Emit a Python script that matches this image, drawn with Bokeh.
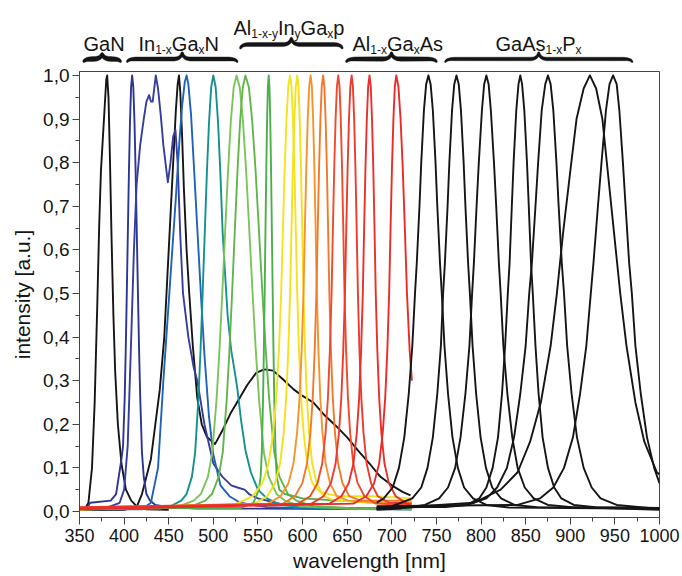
import numpy as np
from bokeh.plotting import figure
from bokeh.layouts import column
from bokeh.models import Range1d, FixedTicker, CustomJSTickFormatter
from bokeh.core.properties import value
from bokeh.embed import file_html
from bokeh.resources import INLINE

FONT = "Liberation Sans"

# ---------------- data ----------------
x_ticks = [350, 400, 450, 500, 550, 600, 650, 700, 750, 800, 850, 900, 950, 1000]
x_minor = [375, 425, 475, 525, 575, 625, 675, 725, 775, 825, 875, 925, 975]
y_ticks = [0.0, 0.1, 0.2, 0.3, 0.4, 0.5, 0.6, 0.7, 0.8, 0.9, 1.0]
y_minor = [0.05, 0.15, 0.25, 0.35, 0.45, 0.55, 0.65, 0.75, 0.85, 0.95]

# GaN (black)
gan_wl = [350, 356, 360, 364, 367, 370, 372, 374, 376, 378, 380, 381, 382.5, 384, 386, 388, 390, 393, 397, 402, 408, 415, 425, 450]
gan_i = [0.004, 0.006, 0.02, 0.1, 0.25, 0.48, 0.65, 0.78, 0.85, 0.92, 0.99, 1.0, 0.95, 0.82, 0.62, 0.45, 0.32, 0.2, 0.11, 0.05, 0.025, 0.01, 0.005, 0.004]

# InGaN, 409 nm (dark blue)
dblue_wl = [350, 358, 362, 385, 391, 394, 397, 398.8, 400.6, 401.8, 403, 404.2, 405.4, 406.6, 407.8, 409, 410.3, 411.6, 412.9, 414.2, 415.5, 416.8, 418.1, 420, 422, 425, 429, 435, 450, 480, 722]
dblue_i = [0.006, 0.008, 0.02, 0.025, 0.04, 0.08, 0.12, 0.15, 0.257, 0.368, 0.5, 0.641, 0.779, 0.895, 0.973, 1.0, 0.973, 0.895, 0.779, 0.641, 0.5, 0.368, 0.257, 0.135, 0.08, 0.04, 0.025, 0.015, 0.01, 0.007, 0.005]

# InGaN, broad double peak (blue)
wblue_wl = [350, 380, 395, 400, 404, 408, 411, 414, 418, 422, 425, 428, 430, 432, 435.5, 438, 441, 444, 449, 452, 455, 457.5, 460, 463, 466, 472, 478, 482, 490, 500, 510, 520, 527, 535, 540, 550, 560, 580, 610, 650, 722]
wblue_i = [0.006, 0.008, 0.02, 0.05, 0.15, 0.4, 0.6, 0.75, 0.84, 0.9, 0.94, 0.955, 0.94, 0.94, 1.0, 0.97, 0.91, 0.84, 0.755, 0.8, 0.86, 0.875, 0.8, 0.63, 0.5, 0.4, 0.33, 0.3, 0.2, 0.11, 0.08, 0.06, 0.055, 0.05, 0.04, 0.03, 0.025, 0.015, 0.01, 0.008, 0.006]

# white LED (black): blue peak + broad phosphor band
white_wl = [350, 400, 414, 420, 430, 440, 445, 450, 455, 458, 460, 461.5, 463, 465, 467, 470, 473, 477, 482, 487, 493, 502, 510, 519, 528, 538, 548, 557, 567, 577, 590, 600, 612, 625, 638, 650, 662, 675, 687, 700, 712, 721]
white_i = [0.003, 0.004, 0.01, 0.04, 0.12, 0.28, 0.4, 0.6, 0.8, 0.92, 0.98, 1.0, 0.96, 0.86, 0.74, 0.6, 0.5, 0.38, 0.26, 0.2, 0.17, 0.155, 0.185, 0.224, 0.255, 0.29, 0.318, 0.326, 0.323, 0.305, 0.28, 0.265, 0.25, 0.22, 0.195, 0.17, 0.14, 0.11, 0.08, 0.06, 0.045, 0.037]

# InGaN, 470 nm (blue)
blue_wl = [350, 420, 430, 438, 444, 449, 454, 458, 462, 465, 468, 470, 472, 475, 478, 482, 486, 490, 495, 500, 508, 518, 530, 560, 620, 722]
blue_i = [0.005, 0.005, 0.02, 0.1, 0.3, 0.45, 0.6, 0.72, 0.85, 0.93, 0.985, 1.0, 0.98, 0.91, 0.8, 0.65, 0.5, 0.36, 0.22, 0.13, 0.06, 0.035, 0.02, 0.01, 0.006, 0.005]

# InGaN, 500 nm (teal)
teal_wl = [350, 440, 452, 464, 470, 476, 479.6, 483.2, 485.6, 488, 490.4, 492.8, 495.2, 497.6, 500, 502.6, 505.2, 507.8, 510.4, 513, 516, 520, 524, 527, 531, 536, 542, 550, 560, 575, 620, 722]
teal_i = [0.005, 0.006, 0.012, 0.025, 0.04, 0.08, 0.135, 0.257, 0.368, 0.5, 0.641, 0.779, 0.895, 0.973, 1.0, 0.973, 0.895, 0.779, 0.641, 0.55, 0.45, 0.37, 0.32, 0.28, 0.21, 0.14, 0.09, 0.05, 0.03, 0.015, 0.008, 0.005]

# InGaN, 526 nm (light green)
lgreen_wl = [350, 462, 478, 486, 494, 498.8, 503.6, 506.8, 510, 513.2, 516.4, 519.6, 522.8, 526, 529.6, 533.2, 536.8, 540.4, 544, 547.6, 551.2, 556.6, 562, 571, 580, 598, 650, 722]
lgreen_i = [0.007, 0.012, 0.025, 0.04, 0.08, 0.135, 0.257, 0.368, 0.5, 0.641, 0.779, 0.895, 0.973, 1.0, 0.973, 0.895, 0.779, 0.641, 0.5, 0.368, 0.257, 0.135, 0.08, 0.04, 0.025, 0.012, 0.007, 0.005]

# InGaN, 536 nm (green)
green_wl = [350, 476, 491, 498.5, 506, 510.5, 515, 518, 521, 524, 527, 530, 533, 536, 539.8, 543.6, 547.4, 551.2, 555, 558.8, 562.6, 568.3, 574, 583.5, 593, 612, 660, 722]
green_i = [0.006, 0.012, 0.025, 0.04, 0.08, 0.135, 0.257, 0.368, 0.5, 0.641, 0.779, 0.895, 0.973, 1.0, 0.973, 0.895, 0.779, 0.641, 0.5, 0.368, 0.257, 0.135, 0.08, 0.04, 0.025, 0.012, 0.007, 0.006]

# 562 nm (narrow green)
ngreen_wl = [350, 530, 545, 551, 553, 554.3, 555.7, 556.6, 557.5, 558.4, 559.3, 560.2, 561.1, 562, 562.9, 563.8, 564.7, 565.6, 566.5, 567.4, 568.3, 569.7, 571, 574, 580, 600, 640, 680, 722]
ngreen_i = [0.008, 0.008, 0.02, 0.05, 0.08, 0.135, 0.257, 0.368, 0.5, 0.641, 0.779, 0.895, 0.973, 1.0, 0.973, 0.895, 0.779, 0.641, 0.5, 0.368, 0.257, 0.135, 0.08, 0.05, 0.04, 0.03, 0.025, 0.02, 0.02]

# AlInGaP yellow 586 / 594
yel1_wl = [350, 526, 544, 555, 562, 567, 570.5, 573.5, 576, 578, 580, 582, 584, 586, 587.6, 589.2, 590.8, 592.4, 594, 596, 598.4, 601.2, 605.2, 610.8, 619.6, 640, 680, 722]
yel1_i = [0.006, 0.018, 0.035, 0.065, 0.11, 0.18, 0.26, 0.37, 0.5, 0.65, 0.79, 0.9, 0.975, 1.0, 0.975, 0.9, 0.79, 0.65, 0.5, 0.37, 0.26, 0.18, 0.11, 0.065, 0.045, 0.035, 0.035, 0.03]

yel2_wl = [350, 546, 560.4, 569.2, 574.8, 578.8, 581.6, 584, 586, 587.6, 589.2, 590.8, 592.4, 594, 595.4, 596.8, 598.2, 599.6, 601, 602.75, 604.85, 607.3, 610.8, 615.7, 623.4, 636, 680, 722]
yel2_i = [0.004, 0.018, 0.035, 0.065, 0.11, 0.18, 0.26, 0.37, 0.5, 0.65, 0.79, 0.9, 0.975, 1.0, 0.975, 0.9, 0.79, 0.65, 0.5, 0.37, 0.26, 0.18, 0.11, 0.065, 0.035, 0.025, 0.02, 0.02]

# AlInGaP orange 609 / 623
or1_wl = [350, 561, 575.4, 584.2, 589.8, 593.8, 596.6, 599, 601, 602.6, 604.2, 605.8, 607.4, 609, 610.4, 611.8, 613.2, 614.6, 616, 617.75, 619.85, 622.3, 625.8, 630.7, 638.4, 651, 690, 722]
or1_i = [0.007, 0.018, 0.035, 0.065, 0.11, 0.18, 0.26, 0.37, 0.5, 0.65, 0.79, 0.9, 0.975, 1.0, 0.975, 0.9, 0.79, 0.65, 0.5, 0.37, 0.26, 0.18, 0.11, 0.065, 0.035, 0.025, 0.02, 0.02]

or2_wl = [350, 578, 591.5, 599.75, 605, 608.75, 611.4, 613.6, 615.5, 617, 618.5, 620, 621.5, 623, 624.4, 625.8, 627.2, 628.6, 630, 631.75, 633.85, 636.3, 639.8, 644.7, 652.4, 665, 700, 722]
or2_i = [0.009, 0.018, 0.035, 0.065, 0.11, 0.18, 0.26, 0.37, 0.5, 0.65, 0.79, 0.9, 0.975, 1.0, 0.975, 0.9, 0.79, 0.65, 0.5, 0.37, 0.26, 0.18, 0.11, 0.065, 0.035, 0.025, 0.025, 0.025]

# AlInGaP / AlGaAs reds 640 / 655 / 675 / 705
red1_wl = [350, 595, 608.5, 616.75, 622, 625.75, 628.4, 630.6, 632.5, 634, 635.5, 637, 638.5, 640, 641.4, 642.8, 644.2, 645.6, 647, 648.75, 650.85, 653.3, 656.8, 661.7, 669.4, 682, 722]
red1_i = [0.006, 0.018, 0.035, 0.065, 0.11, 0.18, 0.26, 0.37, 0.5, 0.65, 0.79, 0.9, 0.975, 1.0, 0.975, 0.9, 0.79, 0.65, 0.5, 0.37, 0.26, 0.18, 0.11, 0.065, 0.035, 0.018, 0.015]

red2_wl = [350, 610, 623.5, 631.75, 637, 640.75, 643.4, 645.6, 647.5, 649, 650.5, 652, 653.5, 655, 656.4, 657.8, 659.2, 660.6, 662, 663.75, 665.85, 668.3, 671.8, 676.7, 684.4, 697, 722]
red2_i = [0.01, 0.018, 0.035, 0.065, 0.11, 0.18, 0.26, 0.37, 0.5, 0.65, 0.79, 0.9, 0.975, 1.0, 0.975, 0.9, 0.79, 0.65, 0.5, 0.37, 0.26, 0.18, 0.11, 0.065, 0.035, 0.02, 0.018]

red3_wl = [350, 630, 643.5, 651.75, 657, 660.75, 663.4, 665.6, 667.5, 669, 670.5, 672, 673.5, 675, 676.4, 677.8, 679.2, 680.6, 682, 683.75, 685.85, 688.3, 691.8, 696.7, 704.4, 717, 722]
red3_i = [0.008, 0.018, 0.035, 0.065, 0.11, 0.18, 0.26, 0.37, 0.5, 0.65, 0.79, 0.9, 0.975, 1.0, 0.975, 0.9, 0.79, 0.65, 0.5, 0.37, 0.26, 0.18, 0.11, 0.065, 0.035, 0.018, 0.017]

red4_wl = [350, 657, 671.4, 680.2, 685.8, 689.8, 692.6, 695, 697, 698.6, 700.2, 701.8, 703.4, 705, 707.4, 709.8, 712.2, 714.6, 717, 720, 722.5]
red4_i = [0.005, 0.018, 0.035, 0.065, 0.11, 0.18, 0.26, 0.37, 0.5, 0.65, 0.79, 0.9, 0.975, 1.0, 0.975, 0.9, 0.79, 0.65, 0.5, 0.37, 0.3]

# AlGaAs / GaAsP near infrared (black)
ir1_wl = [683, 691, 701, 708, 714, 719, 723, 726, 728, 731, 733, 736, 738.5, 741, 743.5, 746, 749, 751, 754, 756, 759, 763, 768, 774, 781, 791, 806, 831, 1000]
ir1_i = [0.02, 0.03, 0.055, 0.1, 0.17, 0.27, 0.38, 0.5, 0.57, 0.7, 0.8, 0.92, 0.98, 1.0, 0.98, 0.92, 0.8, 0.7, 0.57, 0.5, 0.38, 0.27, 0.17, 0.1, 0.055, 0.03, 0.015, 0.009, 0.006]

ir2_wl = [683, 700, 723, 733, 740, 746, 751, 755, 757.5, 759.5, 762.5, 764.5, 767.5, 770, 772.5, 775, 777.5, 780.5, 782.5, 785.5, 787.5, 790.5, 794.5, 799.5, 805.5, 812.5, 822.5, 837.5, 862.5, 1000]
ir2_i = [0.008, 0.012, 0.03, 0.055, 0.1, 0.17, 0.27, 0.38, 0.5, 0.57, 0.7, 0.8, 0.92, 0.98, 1.0, 0.98, 0.92, 0.8, 0.7, 0.57, 0.5, 0.38, 0.27, 0.17, 0.1, 0.055, 0.03, 0.015, 0.01, 0.008]

ir3_wl = [683, 710, 737, 753, 763, 771, 777, 782.5, 787, 790, 792, 795, 797.5, 801, 803.5, 806, 808.5, 811, 814.5, 817, 820, 822, 825, 829.5, 835, 841, 849, 859, 875, 902, 1000]
ir3_i = [0.004, 0.007, 0.015, 0.03, 0.055, 0.1, 0.17, 0.27, 0.38, 0.5, 0.57, 0.7, 0.8, 0.92, 0.98, 1.0, 0.98, 0.92, 0.8, 0.7, 0.57, 0.5, 0.38, 0.27, 0.17, 0.1, 0.055, 0.03, 0.015, 0.01, 0.004]

ir4_wl = [683, 760, 784, 798, 806, 813, 819, 823.5, 827, 830, 832, 834.5, 836.5, 839.5, 842, 844, 846, 848.5, 851.5, 853.5, 856, 858, 861, 864.5, 869, 875, 882, 890, 904, 928, 1000]
ir4_i = [0.01, 0.01, 0.015, 0.03, 0.055, 0.1, 0.17, 0.27, 0.38, 0.5, 0.57, 0.7, 0.8, 0.92, 0.98, 1.0, 0.98, 0.92, 0.8, 0.7, 0.57, 0.5, 0.38, 0.27, 0.17, 0.1, 0.055, 0.03, 0.015, 0.01, 0.008]

ir5_wl = [683, 785, 806, 818, 829, 837, 844, 850, 854, 857, 861, 864, 868, 872, 875, 878, 881, 884.5, 887, 890.5, 893, 896.5, 901.5, 907.5, 915, 924, 934, 952, 1000]
ir5_i = [0.006, 0.015, 0.03, 0.055, 0.1, 0.17, 0.27, 0.38, 0.5, 0.57, 0.7, 0.8, 0.92, 0.98, 1.0, 0.98, 0.92, 0.8, 0.7, 0.57, 0.5, 0.38, 0.27, 0.17, 0.1, 0.055, 0.03, 0.015, 0.006]

ir6_wl = [683, 792, 822, 841, 855, 867, 878, 885, 892, 900, 907, 915, 922, 929, 936, 942, 949, 956, 963, 973, 983, 997, 1000]
ir6_i = [0.006, 0.02, 0.05, 0.09, 0.16, 0.25, 0.38, 0.5, 0.64, 0.78, 0.9, 0.97, 1.0, 0.97, 0.9, 0.78, 0.64, 0.5, 0.38, 0.25, 0.16, 0.09, 0.085]

ir7_wl = [683, 841, 866, 881, 893, 903, 911, 918, 923, 926, 931, 935, 940, 944, 948, 952, 955, 959, 962, 966, 969, 973, 979, 986, 994, 1000]
ir7_i = [0.012, 0.015, 0.03, 0.055, 0.1, 0.17, 0.27, 0.38, 0.5, 0.57, 0.7, 0.8, 0.92, 0.98, 1.0, 0.98, 0.92, 0.8, 0.7, 0.57, 0.5, 0.38, 0.27, 0.17, 0.1, 0.065]

# material groups: name segments (text, is_subscript), brace start / end in nm
group_names = [
    [("GaN", False)],
    [("In", False), ("1-x", True), ("Ga", False), ("x", True), ("N", False)],
    [("Al", False), ("1-x-y", True), ("In", False), ("y", True), ("Ga", False), ("x", True), ("p", False)],
    [("Al", False), ("1-x", True), ("Ga", False), ("x", True), ("As", False)],
    [("GaAs", False), ("1-x", True), ("P", False), (" x", True)],
]
group_start = [354.8, 403.5, 530.4, 649.2, 760.0]
group_end = [396.0, 526.7, 644.4, 750.0, 969.4]

# ---------------- layout constants ----------------
W = 682
LEFT, RIGHT = 79, 23
TOP_H = 63
MAIN_TOP = 8
MAIN_H = 576 - TOP_H
XMIN, XMAX = 350, 1000
PX_PER_NM = (W - LEFT - RIGHT) / (XMAX - XMIN)
INK = "#151515"

colored = [
    (gan_wl, gan_i, INK),
    (white_wl, white_i, INK),
    (dblue_wl, dblue_i, "#2d3592"),
    (wblue_wl, wblue_i, "#363d9d"),
    (blue_wl, blue_i, "#1f63b6"),
    (teal_wl, teal_i, "#14918e"),
    (lgreen_wl, lgreen_i, "#7cc35b"),
    (green_wl, green_i, "#62b54b"),
    (ngreen_wl, ngreen_i, "#4cae4c"),
    (yel1_wl, yel1_i, "#f2e31d"),
    (yel2_wl, yel2_i, "#f6e01a"),
    (or1_wl, or1_i, "#f6932a"),
    (or2_wl, or2_i, "#f17a28"),
    (red1_wl, red1_i, "#ef4a2c"),
    (red2_wl, red2_i, "#ec3b2d"),
    (red3_wl, red3_i, "#e9302b"),
    (red4_wl, red4_i, "#ec2a2a"),
]
infrared = [
    (ir1_wl, ir1_i), (ir2_wl, ir2_i), (ir3_wl, ir3_i), (ir4_wl, ir4_i),
    (ir5_wl, ir5_i), (ir6_wl, ir6_i), (ir7_wl, ir7_i),
]

# ---------------- main plot ----------------
main = figure(width=W, height=MAIN_H, x_range=Range1d(XMIN, XMAX),
              y_range=Range1d(-0.0138, 1.009), output_backend="svg",
              toolbar_location=None, min_border_left=LEFT, min_border_right=RIGHT,
              min_border_top=MAIN_TOP, min_border_bottom=59)
main.xgrid.visible = False
main.ygrid.visible = False
main.outline_line_color = "#444444"
main.outline_line_width = 1
main.background_fill_color = "white"
main.border_fill_color = "white"

for wl, it, col in colored:
    main.line(wl, it, line_color=col, line_width=1.9, line_join="round")
for wl, it in infrared:
    main.line(wl, it, line_color=INK, line_width=1.9, line_join="round")

main.xaxis.ticker = FixedTicker(ticks=x_ticks, minor_ticks=x_minor)
main.yaxis.ticker = FixedTicker(ticks=y_ticks, minor_ticks=y_minor)
main.yaxis.formatter = CustomJSTickFormatter(code="return tick.toFixed(1).replace('.', ',');")
main.xaxis.axis_label = "wavelength [nm]"
main.yaxis.axis_label = "intensity [a.u.]"
for ax in (main.xaxis[0], main.yaxis[0]):
    ax.axis_line_color = "#444444"
    ax.major_tick_line_color = "#444444"
    ax.minor_tick_line_color = "#444444"
    ax.major_tick_out = 7
    ax.major_tick_in = 0
    ax.minor_tick_out = 4
    ax.minor_tick_in = 0
    ax.major_label_text_font = FONT
    ax.major_label_text_color = INK
    ax.axis_label_text_font = FONT
    ax.axis_label_text_font_size = "21px"
    ax.axis_label_text_font_style = "normal"
    ax.axis_label_text_color = INK
main.xaxis.major_label_text_font_size = "18px"
main.yaxis.major_label_text_font_size = "19px"
main.xaxis.major_label_standoff = 4
main.yaxis.major_label_standoff = 3
main.xaxis.axis_label_standoff = 4
main.yaxis.axis_label_standoff = 6

# ---------------- top strip with braces and labels ----------------
top = figure(width=W, height=TOP_H, x_range=main.x_range, y_range=Range1d(TOP_H, 0),
             output_backend="svg", toolbar_location=None, min_border_left=LEFT,
             min_border_right=RIGHT, min_border_top=0, min_border_bottom=0,
             x_axis_location=None, y_axis_location=None, outline_line_color=None)
top.xgrid.visible = False
top.ygrid.visible = False
top.border_fill_color = "white"


def px2nm(px):
    return XMIN + (px - LEFT) / PX_PER_NM


def nm2px(nm):
    return LEFT + (nm - XMIN) * PX_PER_NM


def quad(p0, p1, p2, n=16):
    t = np.linspace(0, 1, n)[:, None]
    return (1 - t) ** 2 * np.array(p0) + 2 * (1 - t) * t * np.array(p1) + t ** 2 * np.array(p2)


def brace(x0, x1, y_bar, h_end, h_tip, r):
    xc = (x0 + x1) / 2
    left = np.vstack([
        quad((x0, y_bar + h_end), (x0, y_bar), (x0 + r, y_bar)),
        quad((xc - r, y_bar), (xc, y_bar), (xc, y_bar - h_tip))[:-1],
    ])
    right = left[::-1].copy()
    right[:, 0] = 2 * xc - right[:, 0]
    c = np.vstack([left, right])
    seg = np.hypot(np.diff(c[:, 0]), np.diff(c[:, 1]))
    s = np.concatenate([[0], np.cumsum(seg)])
    s = s / s[-1]
    thick = 1.0 + 3.8 * np.abs(np.sin(2 * np.pi * s)) ** 0.4
    tx = np.gradient(c[:, 0])
    ty = np.gradient(c[:, 1])
    nrm = np.hypot(tx, ty) + 1e-9
    nx, ny = -ty / nrm, tx / nrm
    up = c + np.column_stack([nx, ny]) * thick[:, None] / 2
    lo = c - np.column_stack([nx, ny]) * thick[:, None] / 2
    poly = np.vstack([up, lo[::-1]])
    return [px2nm(v) for v in poly[:, 0]], list(poly[:, 1])


ARIAL_W = {"A": 0.667, "l": 0.222, "I": 0.278, "n": 0.556, "G": 0.778, "a": 0.556,
           "N": 0.722, "s": 0.5, "P": 0.667, "p": 0.556, "1": 0.556, "-": 0.333,
           "x": 0.5, "y": 0.5, " ": 0.278}
BIG, SMALL = 20, 12

# (bar y, end drop, tip rise) and label (left px, baseline) in page pixels
brace_level = [(58.5, 3.5, 7), (58.5, 3.5, 8), (44, 4.5, 8), (58.5, 3.5, 8), (58.5, 3.5, 8)]
label_px = [(83, 43), (138, 43), (233, 27), (352, 43), (495, 43)]

bx, by = [], []
nx_, ny_, nt_ = [], [], []
sx_, sy_, st_ = [], [], []
for k in range(len(group_names)):
    yb, he, ht = brace_level[k]
    xs, ys = brace(nm2px(group_start[k]), nm2px(group_end[k]), yb, he, ht, 9)
    bx.append(xs)
    by.append(ys)
    cx, base = label_px[k]
    for txt, sub in group_names[k]:
        size = SMALL if sub else BIG
        if sub:
            sx_.append(px2nm(cx)); sy_.append(base + 6); st_.append(txt)
        else:
            nx_.append(px2nm(cx)); ny_.append(base); nt_.append(txt)
        cx += sum(ARIAL_W.get(ch, 0.556) for ch in txt) * size

top.patches(bx, by, fill_color=INK, line_color=INK, line_width=0.4)
top.text(nx_, ny_, text=nt_, text_font=value(FONT), text_font_size=value(f"{BIG}px"),
         text_baseline="alphabetic", text_align="left", text_color=INK)
top.text(sx_, sy_, text=st_, text_font=value(FONT), text_font_size=value(f"{SMALL}px"),
         text_baseline="alphabetic", text_align="left", text_color=INK)

layout = column(top, main, spacing=0)
open("out.html", "w").write(file_html(layout, INLINE))
